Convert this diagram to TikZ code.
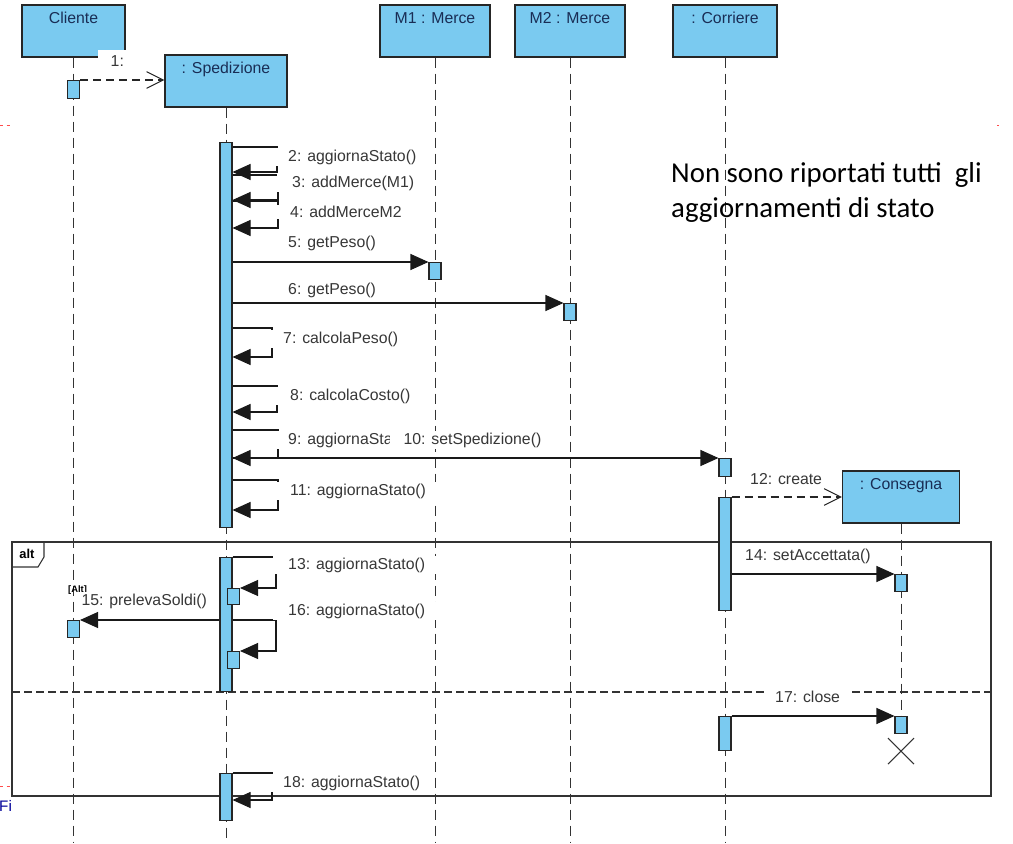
\documentclass[tikz,border=0pt]{standalone}
\usepackage{fontspec}
\setmainfont{Liberation Sans}
\newfontfamily\notefont{Carlito}
\usetikzlibrary{arrows.meta}
\definecolor{objblue}{RGB}{122,202,240}
\definecolor{objtext}{RGB}{25,45,85}
\definecolor{msgtext}{RGB}{55,55,55}
\tikzset{
  obj/.style={draw=black!85, fill=objblue, line width=0.9pt, inner xsep=0pt, inner ysep=0pt,
    text height=0.55cm, text depth=1.01cm, text=objtext, font=\fontsize{13.5}{15}\selectfont},
  act/.style={draw=black!85, fill=objblue, line width=0.9pt, minimum width=0.36cm, inner sep=0pt, anchor=north},
  life/.style={draw=black!80, line width=0.8pt, dash pattern=on 0.3cm off 0.18cm},
  frame/.style={draw=black!80, line width=0.9pt},
  msg/.style={draw=black!90, line width=0.9pt, -{Triangle[length=0.54cm,width=0.48cm]}},
  create/.style={draw=black!85, line width=0.9pt, dash pattern=on 0.24cm off 0.15cm,
    -{Straight Barb[length=0.5cm,width=0.5cm]}},
  lbl/.style={font=\fontsize{13.5}{15}\selectfont, text=msgtext, fill=white, anchor=west,
    inner xsep=0.45cm, inner ysep=1pt},
}
% activation bar: name, x, top y, bottom y
\newcommand{\actbar}[4]{\node[act, minimum height={(#4-#3)*0.03cm}] (#1) at (#2,#3) {};}
% self message: bar, start y, end y, turn x
\newcommand{\selfmsg}[4]{\draw[msg] (#1.east |- 0,#2) -- (#4,#2) |- (#1.east |- 0,#3);}

\begin{document}
\begin{tikzpicture}[x=0.03cm, y=-0.03cm]
  \useasboundingbox (0,0) rectangle (1013,843);
  % lifeline heads
  \node[obj, minimum width=3.09cm] (CLI) at (73.5,31) {Cliente};
  \node[obj, minimum width=3.66cm] (SPE) at (226,81) {: Spedizione};
  \node[obj, minimum width=3.3cm] (M1) at (435,31) {M1 : Merce};
  \node[obj, minimum width=3.3cm] (M2) at (570,31) {M2 : Merce};
  \node[obj, minimum width=3.12cm] (COR) at (725,31) {: Corriere};
  \node[obj, minimum width=3.51cm] (CON) at (901,497) {: Consegna};
  % lifelines
  \coordinate (CLIend) at (73.5,843);
  \coordinate (SPEend) at (226,843);
  \coordinate (M1end) at (435,843);
  \coordinate (M2end) at (570,843);
  \coordinate (CORend) at (725,843);
  \coordinate (CONend) at (901,716);
  \draw[life] (CLI.south) -- (CLIend);
  \draw[life] (SPE.south) -- (SPEend);
  \draw[life] (M1.south) -- (M1end);
  \draw[life] (M2.south) -- (M2end);
  \draw[life] (COR.south) -- (CORend);
  \draw[life] (CON.south) -- (CONend);

  % alt fragment
  \draw[frame] (12,542) rectangle (991,796);
  \draw[frame] (12,567) -- (38,567) -- (44,557) -- (44,542);
  \node[font=\fontsize{11}{12}\selectfont\bfseries, inner sep=0pt] (ALT) at (27,554) {alt};
  \draw[frame, dash pattern=on 0.24cm off 0.12cm] (12,692) -- (991,692);

  % activations
  \actbar{A1}{73.5}{80}{98}
  \actbar{S1}{226}{142}{527}
  \actbar{M1A}{435}{262}{279}
  \actbar{M2A}{570}{303}{320}
  \actbar{C1}{725}{458}{476}
  \actbar{C2}{725}{497}{610}
  \actbar{S2}{226}{557}{691}
  \actbar{S2A}{233.5}{588}{604}
  \actbar{CL2}{73.5}{620}{637}
  \actbar{S2B}{233.5}{651}{668}
  \actbar{K1}{901}{574}{591}
  \actbar{C3}{725}{716}{750}
  \actbar{K2}{901}{716}{733}
  \actbar{S3}{226}{773}{820}
  % destroy mark
  \draw[frame] ([shift={(-13,4)}]K2.south) -- ([shift={(13,30)}]K2.south);
  \draw[frame] ([shift={(13,4)}]K2.south) -- ([shift={(-13,30)}]K2.south);

  % messages
  \draw[create] (A1.north east) -- (A1.north east -| SPE.west);
  \selfmsg{S1}{147}{172}{277}
  \selfmsg{S1}{175}{200}{278}
  \selfmsg{S1}{201}{228}{278}
  \draw[msg] (S1.east |- M1A.north) -- (M1A.north west);
  \draw[msg] (S1.east |- M2A.north) -- (M2A.north west);
  \selfmsg{S1}{328}{357}{272}
  \selfmsg{S1}{386}{412}{277}
  \selfmsg{S1}{430}{458}{278}
  \draw[msg] (S1.east |- C1.north) -- (C1.north west);
  \selfmsg{S1}{480}{510}{278}
  \draw[create] (C2.north east) -- (C2.north east -| CON.west);
  \draw[msg] (S2.east |- 0,557) -- (276,557) |- (S2A.north east);
  \draw[msg] (C2.east |- K1.north) -- (K1.north west);
  \draw[msg] (S2.west |- CL2.north) -- (CL2.north east);
  \draw[msg] (S2.east |- 0,620) -- (276,620) |- (S2B.north east);
  \draw[msg] (C3.north east) -- (K2.north west);
  \selfmsg{S3}{773}{800}{272}

  % message labels
  \node[lbl, anchor=center, minimum width=0.96cm, minimum height=0.66cm, inner sep=0pt] (L1) at (114,61) {\hspace*{0.2cm}1:};
  \node[lbl] (L2) at (273,157) {2: aggiornaStato()};
  \node[lbl] (L3) at (277,183) {3: addMerce(M1)};
  \node[lbl] (L4) at (275,212) {4: addMerceM2};
  \node[lbl] (L5) at (273,243) {5: getPeso()};
  \node[lbl] (L6) at (273,290) {6: getPeso()};
  \node[lbl] (L7) at (268,339) {7: calcolaPeso()};
  \node[lbl] (L8) at (275,396) {8: calcolaCosto()};
  \node[lbl] (L9) at (273,440) {9: aggiornaStato()};
  \node[lbl, inner xsep=0.4cm] (L10) at (390,440) {10: setSpedizione()};
  \node[lbl] (L11) at (275,491) {11: aggiornaStato()};
  \node[lbl, inner xsep=0.3cm] (L12) at (740,479) {12: create};
  \node[font=\fontsize{8}{9}\selectfont\bfseries, anchor=west, inner sep=0pt] (GUARD) at (68,590) {[Alt]};
  \node[lbl] (L13) at (273,565) {13: aggiornaStato()};
  \node[lbl, inner xsep=0.3cm] (L14) at (735,556) {14: setAccettata()};
  \node[lbl, inner xsep=0.1cm] (L15) at (78,601) {15: prelevaSoldi()};
  \node[lbl] (L16) at (273,611) {16: aggiornaStato()};
  \node[lbl, inner xsep=0.3cm] (L17) at (765,697) {17: close};
  \node[lbl] (L18) at (268,783) {18: aggiornaStato()};

  % note
  \node[anchor=north west, align=left, inner sep=0pt, font=\notefont\fontsize{24.6}{30}\selectfont] (NOTE)
    at (671,162) {Non sono riportati tutti\ \ gli\\aggiornamenti di stato};

  % page leftovers
  \draw[red!70, line width=0.6pt, dash pattern=on 0.1cm off 0.1cm] (0,125) -- (10,125);
  \draw[red!70, line width=0.6pt] (997,125) -- (999,125);
  \draw[red!70, line width=0.6pt, dash pattern=on 0.1cm off 0.1cm] (0,786) -- (10,786);
  \node[text=blue!60!black, font=\fontsize{13}{14}\selectfont, anchor=west, inner sep=0pt] (FI) at (-1,806) {Fi};
\end{tikzpicture}
\end{document}
